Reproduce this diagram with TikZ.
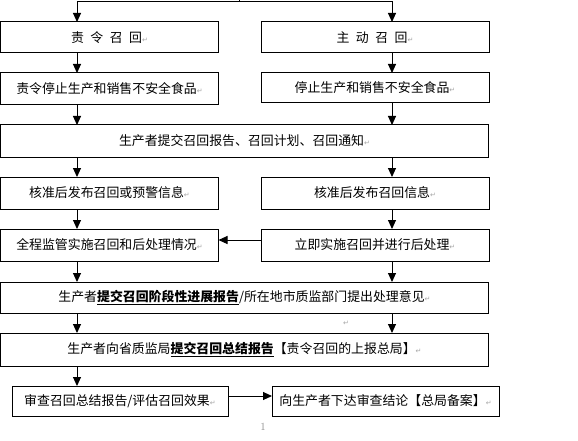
\documentclass[tikz,border=0pt]{standalone}
\usepackage{fontspec}
\newfontfamily\cjk{Noto Sans CJK SC}
\newfontfamily\dvfont{DejaVu Sans}
\usetikzlibrary{arrows.meta}
\newcommand{\retmark}{{\dvfont\fontsize{7}{7}\selectfont\textcolor{black!35}{↵}}}
\newcommand{\cgap}{\hspace{0.5em}}
\begin{document}
\begin{tikzpicture}[x=1pt,y=-1pt,
  box/.style={draw, line width=1pt, inner sep=0pt, outer sep=0pt, fill=white,
    font=\cjk\fontsize{12.9}{14}\selectfont},
  arr/.style={line width=1pt, -{Triangle[length=9pt,width=8pt]}},
  ln/.style={line width=1pt}]
\fill[white] (0,0) rectangle (578,441);
\useasboundingbox (0,0) rectangle (578,441);
\coordinate (L) at (77,0);
\coordinate (R) at (392,0);
\coordinate (tm) at (239,0);
\coordinate (tl) at (77,1.5);
\coordinate (tr) at (392,1.5);
\coordinate (tc) at (239,1.5);

\node[box, minimum width=218pt, minimum height=31pt] (b1l) at (109.5,37.5) {责\cgap 令\cgap 召\cgap 回\retmark};
\node[box, minimum width=228pt, minimum height=31pt] (b1r) at (375,37.5) {主\cgap 动\cgap 召\cgap 回\retmark};
\node[box, minimum width=218pt, minimum height=32pt] (b2l) at (109.5,89) {责令停止生产和销售不安全食品\retmark};
\node[box, minimum width=228pt, minimum height=30pt] (b2r) at (375,88) {停止生产和销售不安全食品\retmark};
\node[box, minimum width=488pt, minimum height=32pt] (b3) at (244.5,141) {生产者提交召回报告、召回计划、召回通知\retmark};
\node[box, minimum width=218pt, minimum height=32pt] (b4l) at (109.5,193) {核准后发布召回或预警信息\retmark};
\node[box, minimum width=228pt, minimum height=32pt] (b4r) at (375,193) {核准后发布召回信息\retmark};
\node[box, minimum width=218pt, minimum height=32pt] (b5l) at (109.5,245) {全程监管实施召回和后处理情况\retmark};
\node[box, minimum width=228pt, minimum height=32pt] (b5r) at (375,245) {立即实施召回并进行后处理\retmark};
\node[box, minimum width=488pt, minimum height=31pt] (b6) at (244.5,297.5) {生产者\textbf{\underline{提交召回阶段性进展报告}}/所在地市质监部门提出处理意见\retmark};
\node[box, minimum width=488pt, minimum height=33pt] (b7) at (244.5,349.5) {生产者向省质监局\textbf{\underline{提交召回总结报告}}【责令召回的上报总局】\retmark};
\node[box, minimum width=216pt, minimum height=30pt] (b8l) at (120,401) {审查召回总结报告/评估召回效果\retmark};
\node[box, minimum width=227pt, minimum height=30pt] (b8r) at (385.5,401) {向生产者下达审查结论【总局备案】\retmark};

\node[font=\dvfont\fontsize{7}{7}\selectfont, text=black!35] (m1) at (346,323) {↵};
\node[font=\fontsize{11}{11}\selectfont, text=black!45] (pg) at (263,427) {1};

\draw[ln] (tm) -- (tc);
\draw[ln] (tl) -- (tr);
\draw[arr] (tl) -- (b1l.north -| L);
\draw[arr] (tr) -- (b1r.north -| R);
\draw[arr] (b1l.south -| L) -- (b2l.north -| L);
\draw[arr] (b1r.south -| R) -- (b2r.north -| R);
\draw[arr] (b2l.south -| L) -- (b3.north -| L);
\draw[arr] (b2r.south -| R) -- (b3.north -| R);
\draw[arr] (b3.south -| L) -- (b4l.north -| L);
\draw[arr] (b3.south -| R) -- (b4r.north -| R);
\draw[arr] (b4l.south -| L) -- (b5l.north -| L);
\draw[arr] (b4r.south -| R) -- (b5r.north -| R);
\draw[arr] ([yshift=5pt]b5r.west) -- ([yshift=5pt]b5l.east);
\draw[arr] (b5l.south -| L) -- (b6.north -| L);
\draw[arr] (b5r.south -| R) -- (b6.north -| R);
\draw[arr] (b6.south -| L) -- (b7.north -| L);
\draw[arr] (b6.south -| R) -- (b7.north -| R);
\draw[arr] (b7.south -| L) -- (b8l.north -| L);
\draw[arr] ([yshift=5pt]b8l.east) -- ([yshift=5pt]b8r.west);
\end{tikzpicture}
\end{document}
